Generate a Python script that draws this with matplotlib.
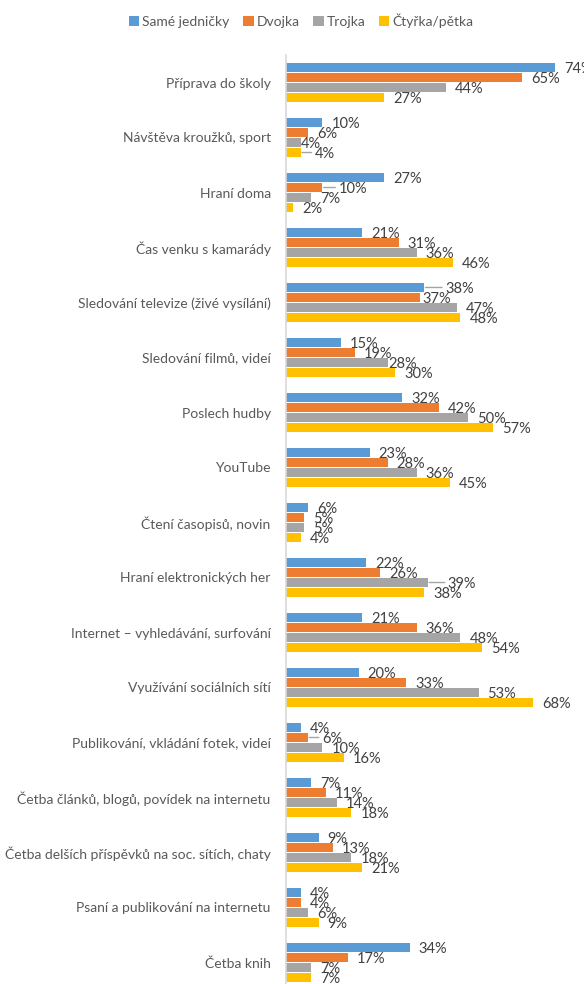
import matplotlib
matplotlib.use("Agg")
import matplotlib.pyplot as plt
import numpy as np

categories = [
    "Příprava do školy",
    "Návštěva kroužků, sport",
    "Hraní doma",
    "Čas venku s kamarády",
    "Sledování televize (živé vysílání)",
    "Sledování filmů, videí",
    "Poslech hudby",
    "YouTube",
    "Čtení časopisů, novin",
    "Hraní elektronických her",
    "Internet – vyhledávání, surfování",
    "Využívání sociálních sítí",
    "Publikování, vkládání fotek, videí",
    "Četba článků, blogů, povídek na internetu",
    "Četba delších příspěvků na soc. sítích, chaty",
    "Psaní a publikování na internetu",
    "Četba knih",
]
series_names = ["Samé jedničky", "Dvojka", "Trojka", "Čtyřka/pětka"]
same_jednicky = [74, 10, 27, 21, 38, 15, 32, 23, 6, 22, 21, 20, 4, 7, 9, 4, 34]
dvojka = [65, 6, 10, 31, 37, 19, 42, 28, 5, 26, 36, 33, 6, 11, 13, 4, 17]
trojka = [44, 4, 7, 36, 47, 28, 50, 36, 5, 39, 48, 53, 10, 14, 18, 6, 7]
ctyrka_petka = [27, 4, 2, 46, 48, 30, 57, 45, 4, 38, 54, 68, 16, 18, 21, 9, 7]

series = [same_jednicky, dvojka, trojka, ctyrka_petka]
colors = ["#5B9BD5", "#ED7D31", "#A5A5A5", "#FFC000"]

# label placement tweaks (offset in pixels, leader line flag), as Excel moved them
default_dx = 9
label_moves = {
    (1, 2): (0, False),
    (1, 3): (14, True),
    (2, 1): (16, True),
    (4, 0): (21, True),
    (4, 1): (2, False),
    (5, 2): (1, False),
    (9, 2): (20, True),
    (12, 1): (14, True),
}

plt.rcParams["font.family"] = ["Lato", "DejaVu Sans"]

fig = plt.figure(figsize=(5.84, 9.84), dpi=100)
ax = fig.add_axes([286 / 584, 1 - 990 / 984, 298 / 584, (990 - 55) / 984])

px = 72 / fig.dpi  # points per pixel

y = np.arange(len(categories))
slot = 0.182
bh = 0.155
for i, (vals, col, name) in enumerate(zip(series, colors, series_names)):
    pos = y + (i - 1.5) * slot
    ax.barh(pos, vals, height=bh, color=col, label=name)
    for c, (p, v) in enumerate(zip(pos, vals)):
        dx, leader = label_moves.get((c, i), (default_dx, False))
        ax.annotate(f"{v}%", (v, p), xytext=(dx * px, -1.5 * px), textcoords="offset points",
                    va="center", ha="left", fontsize=10.5, color="#404040",
                    annotation_clip=False)
        if leader:
            ax.annotate("", xy=(v, p), xytext=((dx - 3) * px, 0), textcoords="offset points",
                        arrowprops=dict(arrowstyle="-", color="#A5A5A5", lw=1.0,
                                        shrinkA=0, shrinkB=1),
                        annotation_clip=False)

ax.set_ylim(len(categories) - 0.5, -0.5)
ax.set_xlim(0, 82)
ax.set_yticks(y)
ax.set_yticklabels(categories, fontsize=10, color="#595959")
ax.tick_params(axis="y", length=0, pad=11)
ax.set_xticks([])
for s in ["top", "right", "bottom"]:
    ax.spines[s].set_visible(False)
ax.spines["left"].set_color("#D9D9D9")
ax.spines["left"].set_linewidth(1.2)

handles, labels = ax.get_legend_handles_labels()
fig.legend(handles, labels, loc="center", bbox_to_anchor=(301 / 584, 1 - 21 / 984),
           ncol=4, frameon=False, fontsize=10, handlelength=0.75, handleheight=0.75,
           handletextpad=0.2, columnspacing=1.0, labelcolor="#595959")

fig.savefig("out.png", dpi=100)
